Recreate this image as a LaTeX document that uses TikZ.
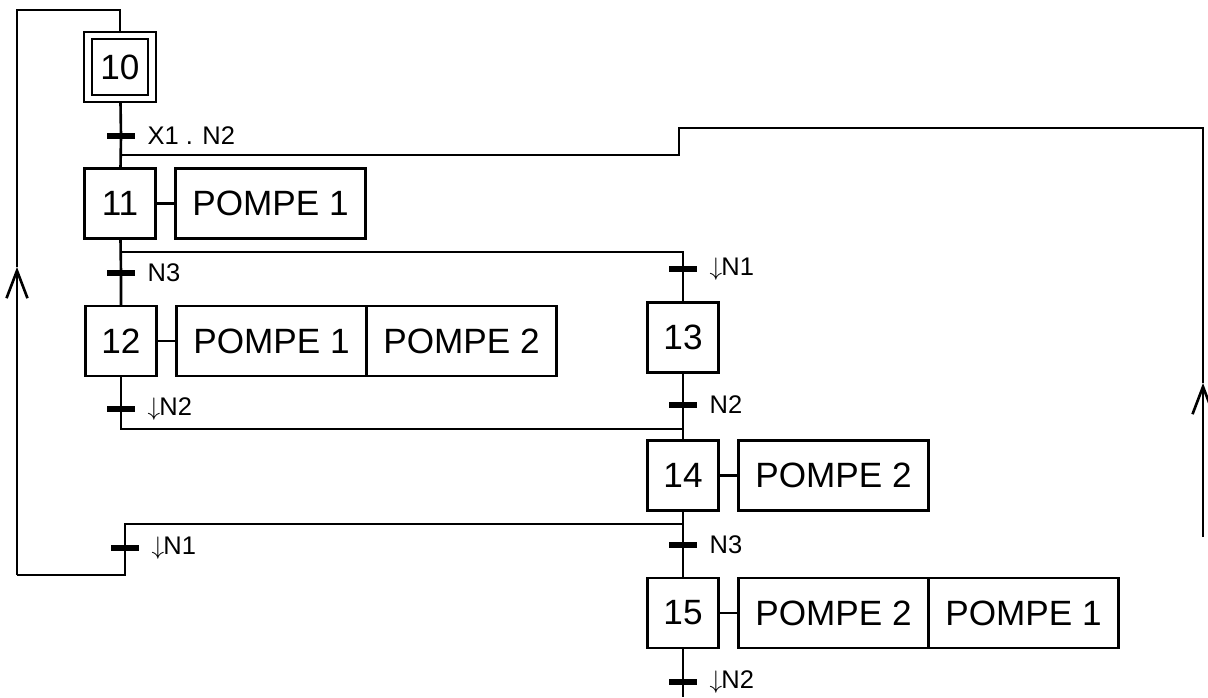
\documentclass[tikz,border=0pt]{standalone}
\usepackage{fontspec}
\setmainfont{Liberation Sans}
\newcommand{\fallarrow}{$\downarrow$\kern-0.5pt}
\usetikzlibrary{arrows.meta,positioning}
\tikzset{
  stepbox/.style={draw,line width=1.3pt,minimum width=1.42cm,minimum height=1.40cm,inner sep=0pt,outer sep=0pt,font=\fontsize{20}{24}\selectfont},
  actbox/.style={draw,line width=1.3pt,minimum width=3.8cm,minimum height=1.40cm,inner sep=0pt,outer sep=0pt,font=\fontsize{20}{24}\selectfont},
  lbl/.style={font=\fontsize{14.5}{17}\selectfont,label distance=0.2cm,inner sep=0pt},
  trans/.style={fill,minimum width=0.56cm,minimum height=0.12cm,inner sep=0pt,label={[lbl]right:#1}},
  arr/.style={-{Straight Barb[length=0.55cm,width=0.42cm]}}
}
\begin{document}
\begin{tikzpicture}[line width=1.5pt]
\useasboundingbox (0,0) rectangle (24.16,-13.94);
% left branch
\node[stepbox,minimum width=1.12cm,minimum height=1.12cm] (s10) at (2.40,-1.34) {10};
\node[stepbox,minimum width=1.44cm] (s10o) at (s10) {};
\node[trans={X1 . N2}] (t1) at (2.42,-2.72) {};
\node[stepbox] (s11) at (2.40,-4.07) {11};
\node[actbox,right=0.4cm of s11] (a11) {POMPE 1};
\node[trans=N3] (t2) at (2.42,-5.46) {};
\node[stepbox] (s12) at (2.42,-6.82) {12};
\node[actbox,right=0.4cm of s12] (a12) {POMPE 1};
\node[actbox,right=0pt of a12] (a12b) {POMPE 2};
\node[trans=\fallarrow N2] (t4) at (2.42,-8.18) {};
\node[trans=\fallarrow N1] (t6) at (2.50,-10.96) {};
% right branch
\node[trans=\fallarrow N1] (t3) at (13.66,-5.38) {};
\node[stepbox] (s13) at (13.66,-6.75) {13};
\node[trans=N2] (t5) at (13.66,-8.10) {};
\node[stepbox] (s14) at (13.66,-9.51) {14};
\node[actbox,right=0.4cm of s14] (a14) {POMPE 2};
\node[trans=N3] (t7) at (13.66,-10.90) {};
\node[stepbox] (s15) at (13.66,-12.26) {15};
\node[actbox,right=0.4cm of s15] (a15) {POMPE 2};
\node[actbox,right=0pt of a15] (a15b) {POMPE 1};
\node[trans=\fallarrow N2] (t8) at (13.66,-13.64) {};
% corners
\coordinate (j1) at (2.42,-3.10);
\coordinate (k1) at (13.58,-2.56);
\coordinate (k2) at (24.06,-2.56);
\coordinate (ra) at (24.06,-7.66);
\coordinate (rb) at (24.06,-10.74);
\coordinate (j2) at (2.42,-5.04);
\coordinate (j3) at (2.42,-8.58);
\coordinate (j4) at (2.50,-10.48);
\coordinate (lb) at (2.50,-11.50);
\coordinate (lc) at (0.34,-11.50);
\coordinate (la) at (0.34,-5.34);
\coordinate (lt) at (0.34,-0.20);
\coordinate (bot) at (13.66,-13.94);
% links
\draw (s10o) -- (t1.center) -- (s11);
\draw (s11) -- (t2.center) -- (s12);
\draw (s12) -- (t4.center) -- (j3) -- (j3 -| s14);
\draw (j2) -- (j2 -| t3) -- (t3.center) -- (s13);
\draw (s13) -- (t5.center) -- (s14);
\draw (s14) -- (t7.center) -- (s15);
\draw (s15) -- (t8.center) -- (bot);
\draw (j4 -| s14) -- (j4) -- (t6.center) -- (lb) -- (lc);
\draw[arr] (lc) -- (la);
\draw (la) -- (lt) -| (s10o);
\draw[arr] (rb) -- (ra);
\draw (ra) -- (k2) -- (k1) |- (j1);
\draw (s11) -- (a11) (s12) -- (a12) (s14) -- (a14) (s15) -- (a15);
\end{tikzpicture}
\end{document}
